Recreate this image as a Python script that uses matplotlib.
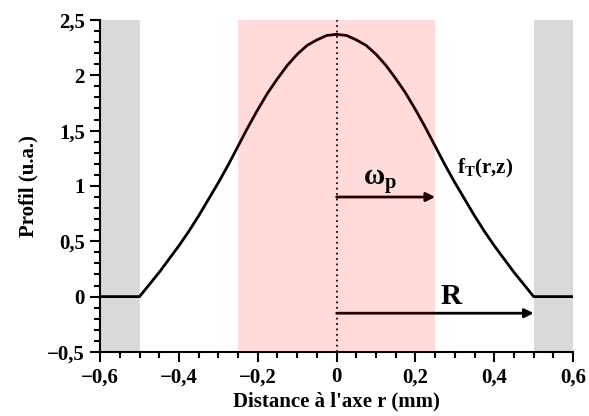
import matplotlib
matplotlib.use("Agg")
import matplotlib.pyplot as plt
from matplotlib.ticker import MultipleLocator

# profile (r in mm, profile in a.u.)
r = [-0.6, -0.5, -0.475, -0.45, -0.425, -0.4, -0.375, -0.35, -0.325, -0.3,
     -0.275, -0.25, -0.225, -0.2, -0.175, -0.15, -0.125, -0.1, -0.075, -0.05,
     -0.025, 0.0, 0.025, 0.05, 0.075, 0.1, 0.125, 0.15, 0.175, 0.2,
     0.225, 0.25, 0.275, 0.3, 0.325, 0.35, 0.375, 0.4, 0.425, 0.45,
     0.475, 0.5, 0.6]
profil = [0.0, 0.0, 0.11, 0.22, 0.34, 0.46, 0.59, 0.73, 0.88, 1.03,
          1.19, 1.36, 1.53, 1.69, 1.84, 1.97, 2.09, 2.19, 2.27, 2.32,
          2.36, 2.37, 2.36, 2.32, 2.27, 2.19, 2.09, 1.97, 1.84, 1.69,
          1.53, 1.36, 1.19, 1.03, 0.88, 0.73, 0.59, 0.46, 0.34, 0.22,
          0.11, 0.0, 0.0]

w_p = 0.25      # beam waist
R = 0.5         # radius
arrow_wp_y = 0.9
arrow_R_y = -0.15

xticks = [-0.6, -0.4, -0.2, 0, 0.2, 0.4, 0.6]
xticklabels = ['\u22120,6', '\u22120,4', '\u22120,2', '0', '0,2', '0,4', '0,6']
yticks = [-0.5, 0, 0.5, 1, 1.5, 2, 2.5]
yticklabels = ['\u22120,5', '0', '0,5', '1', '1,5', '2', '2,5']

plt.rcParams['font.family'] = ['Liberation Serif', 'DejaVu Serif']
plt.rcParams['font.weight'] = 'bold'
plt.rcParams['mathtext.fontset'] = 'custom'
plt.rcParams['mathtext.rm'] = 'Liberation Serif:bold'
plt.rcParams['mathtext.it'] = 'Liberation Serif:bold'

fig = plt.figure(figsize=(5.89, 4.16), dpi=100)
ax = fig.add_axes([0.170, 0.154, 0.803, 0.798])

ax.axvspan(-0.6, -R, color='#d9d9d9', lw=0, zorder=0)
ax.axvspan(R, 0.6, color='#d9d9d9', lw=0, zorder=0)

ax.plot(r, profil, color='black', lw=2, zorder=2, solid_joinstyle='round')
ax.axvline(0, color='black', ls=(0, (1, 2)), lw=1.3, zorder=2)

arr = dict(arrowstyle='-|>', lw=2, color='black', mutation_scale=13,
           shrinkA=0, shrinkB=0)
ax.annotate('', xy=(w_p, arrow_wp_y), xytext=(0, arrow_wp_y), arrowprops=arr, zorder=2)
ax.annotate('', xy=(R, arrow_R_y), xytext=(0, arrow_R_y), arrowprops=arr, zorder=2)

# pink waist region laid over the curve
ax.axvspan(-w_p, w_p, color='red', alpha=0.14, lw=0, zorder=3)

ax.text(0.11, 1.04, r'$\mathrm{\omega_p}$', fontsize=21, ha='center', va='center', zorder=4)
ax.text(0.305, 1.16, r'$\mathrm{f_T(r{,}z)}$', fontsize=15, ha='left', va='center', zorder=4)
ax.text(0.29, 0.0, 'R', fontsize=21, ha='center', va='center', fontweight='bold', zorder=4)

ax.set_xlim(-0.6, 0.6)
ax.set_ylim(-0.5, 2.5)
ax.set_xticks(xticks)
ax.set_xticklabels(xticklabels, fontsize=15, fontweight='bold')
ax.set_yticks(yticks)
ax.set_yticklabels(yticklabels, fontsize=15, fontweight='bold')
ax.xaxis.set_minor_locator(MultipleLocator(0.05))
ax.yaxis.set_minor_locator(MultipleLocator(0.1))
ax.tick_params(which='major', length=7, width=1.5, direction='out', pad=4)
ax.tick_params(which='minor', length=4, width=1.5, direction='out')
for s in ['top', 'right']:
    ax.spines[s].set_visible(False)
for s in ['left', 'bottom']:
    ax.spines[s].set_linewidth(1.5)

ax.set_xlabel("Distance \u00e0 l'axe r (mm)", fontsize=15, fontweight='bold', labelpad=3)
ax.set_ylabel('Profil (u.a.)', fontsize=15, fontweight='bold', labelpad=6)

fig.savefig('out.png', dpi=100)
